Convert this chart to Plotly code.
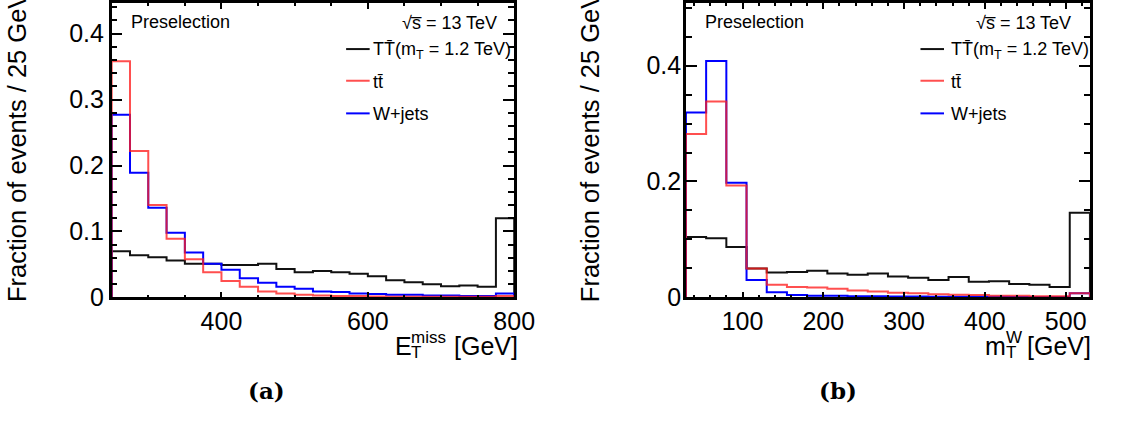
import plotly.graph_objects as go

# ---------------- data: (a) missing transverse energy, 25 GeV bins ----------------
met_edges = list(range(250, 801, 25))
met_signal = [0.070, 0.064, 0.061, 0.056, 0.051, 0.051, 0.049, 0.049, 0.051, 0.043, 0.038,
              0.040, 0.038, 0.036, 0.032, 0.026, 0.023, 0.020, 0.017, 0.018, 0.016, 0.120]
met_ttbar = [0.358, 0.222, 0.140, 0.089, 0.058, 0.038, 0.025, 0.016, 0.009, 0.006, 0.004,
             0.003, 0.002, 0.002, 0.0015, 0.001, 0.001, 0.001, 0.001, 0.0008, 0.0008, 0.002]
met_wjets = [0.277, 0.189, 0.136, 0.098, 0.068, 0.051, 0.042, 0.029, 0.022, 0.016, 0.013,
             0.009, 0.008, 0.006, 0.005, 0.004, 0.004, 0.003, 0.003, 0.002, 0.002, 0.006]

# ---------------- data: (b) transverse mass of the W, 25 GeV bins ----------------
mtw_edges = list(range(30, 531, 25))
mtw_signal = [0.104, 0.102, 0.087, 0.050, 0.043, 0.044, 0.046, 0.041, 0.039, 0.041,
              0.036, 0.034, 0.030, 0.035, 0.027, 0.028, 0.023, 0.022, 0.018, 0.146]
mtw_ttbar = [0.282, 0.338, 0.193, 0.050, 0.022, 0.018, 0.017, 0.015, 0.012, 0.010,
             0.008, 0.007, 0.0055, 0.0045, 0.004, 0.003, 0.003, 0.002, 0.002, 0.007]
mtw_wjets = [0.319, 0.408, 0.198, 0.030, 0.009, 0.004, 0.003, 0.003, 0.002, 0.002,
             0.0015, 0.0015, 0.001, 0.001, 0.001, 0.001, 0.0008, 0.0008, 0.0008, 0.007]

series_names = ["TT\u0304(m<sub>T</sub> = 1.2 TeV)", "tt\u0304", "W+jets"]
series_colors = ["#111111", "rgba(255,30,30,0.78)", "#0000ff"]

W, H = 1124, 423
FONT = "Liberation Sans, Arial, Helvetica, sans-serif"


def px(x):
    return x / W


def py(y):
    return 1 - y / H


def step_xy(edges, vals):
    """Outline of a histogram drawn with an hv line."""
    x = [edges[0]] + list(edges) + [edges[-1]]
    y = [0] + list(vals) + [vals[-1], 0]
    return x, y


fig = go.Figure()

panels = [
    dict(edges=met_edges, vals=[met_signal, met_wjets, met_ttbar], xa="x", ya="y"),
    dict(edges=mtw_edges, vals=[mtw_signal, mtw_wjets, mtw_ttbar], xa="x2", ya="y2"),
]
draw_colors = [series_colors[0], series_colors[2], series_colors[1]]
for p in panels:
    for vals, col in zip(p["vals"], draw_colors):
        x, y = step_xy(p["edges"], vals)
        fig.add_trace(go.Scatter(x=x, y=y, mode="lines", line_shape="hv",
                                 line=dict(color=col, width=2),
                                 xaxis=p["xa"], yaxis=p["ya"], showlegend=False,
                                 hoverinfo="skip"))

y_dom = [py(306.7), 1.0]


def xaxis_cfg(domain, rng, tickvals, minor_dtick):
    return dict(domain=domain, range=rng, tickvals=tickvals,
                ticks="inside", ticklen=6, tickwidth=2, tickcolor="black",
                minor=dict(ticks="inside", dtick=minor_dtick, ticklen=3,
                           tickwidth=1.5, tickcolor="black"),
                showline=True, linewidth=2.5, linecolor="black", mirror="ticks",
                showgrid=False, zeroline=False,
                tickfont=dict(family=FONT, size=25, color="black"))


def yaxis_cfg(anchor, rng, tickvals, ticktext, minor_dtick, standoff):
    return dict(domain=y_dom, range=rng, anchor=anchor, tickvals=tickvals,
                ticktext=ticktext, ticklabelstandoff=standoff,
                ticks="inside", ticklen=11, tickwidth=2, tickcolor="black",
                minor=dict(ticks="inside", dtick=minor_dtick, ticklen=6,
                           tickwidth=1.5, tickcolor="black"),
                showline=True, linewidth=2.5, linecolor="black", mirror="ticks",
                showgrid=False, zeroline=False,
                tickfont=dict(family=FONT, size=25, color="black"))


fig.update_layout(
    width=W, height=H, margin=dict(l=0, r=0, t=0, b=0),
    paper_bgcolor="white", plot_bgcolor="white", showlegend=False,
    xaxis=dict(xaxis_cfg([px(113.8), px(524)], [250, 800], [400, 600, 800], 50), anchor="y"),
    yaxis=yaxis_cfg("x", [0, 0.4465], [0, 0.1, 0.2, 0.3, 0.4],
                    ["0", "0.1", "0.2", "0.3", "0.4"], 0.02, 0),
    xaxis2=dict(xaxis_cfg([px(699), px(1110.7)], [30, 530], [100, 200, 300, 400, 500], 20),
                anchor="y2"),
    yaxis2=yaxis_cfg("x2", [0, 0.508], [0, 0.2, 0.4], ["0", "0.2", "0.4"], 0.05, -3),
)

ann = []
shapes = []


def text(x, y, s, size, xanchor="left", yanchor="middle", angle=0, family=FONT, weight="normal"):
    ann.append(dict(x=px(x), y=py(y), xref="paper", yref="paper", text=s, showarrow=False,
                    xanchor=xanchor, yanchor=yanchor, textangle=angle,
                    font=dict(family=family, size=size, color="black", weight=weight)))


# panel labels, legends and y-axis titles for both panels
for presel_x, sig_right, leg_x0, leg_text_x, ytitle_x in [
        (131.7, 508, 352.7, 378, 18),
        (716.7, 1093, 938, 967, 602)]:
    text(presel_x, 20, "Preselection", 18)
    text(sig_right, 21, "\u221as\u0305 = 13 TeV", 18, xanchor="right")
    for yy, name, col in zip([48, 81, 115], series_names, series_colors):
        shapes.append(dict(type="line", xref="paper", yref="paper",
                           x0=px(leg_x0), x1=px(leg_x0 + 24), y0=py(yy), y1=py(yy),
                           line=dict(color=col, width=2)))
        text(leg_text_x, yy + 1, name, 18)
    text(ytitle_x, 314, "Fraction of events / 25 GeV", 25.5, xanchor="center",
         yanchor="bottom", angle=-90)

# x-axis titles built from stacked sub/superscripts
text(400, 357, "E", 25)
text(416.5, 348, "miss", 17)
text(417, 364, "T", 17)
text(461, 357, "[GeV]", 25)

text(1002, 357, "m", 25)
text(1023, 348, "W", 17)
text(1023.5, 364, "T", 17)
text(1044.5, 357, "[GeV]", 25)

# sub-figure captions
text(272, 404, "(a)", 23, xanchor="center", family="DejaVu Serif", weight="bold")
text(854, 404, "(b)", 23, xanchor="center", family="DejaVu Serif", weight="bold")

fig.update_layout(annotations=ann, shapes=shapes)
fig.write_html("out.html")
